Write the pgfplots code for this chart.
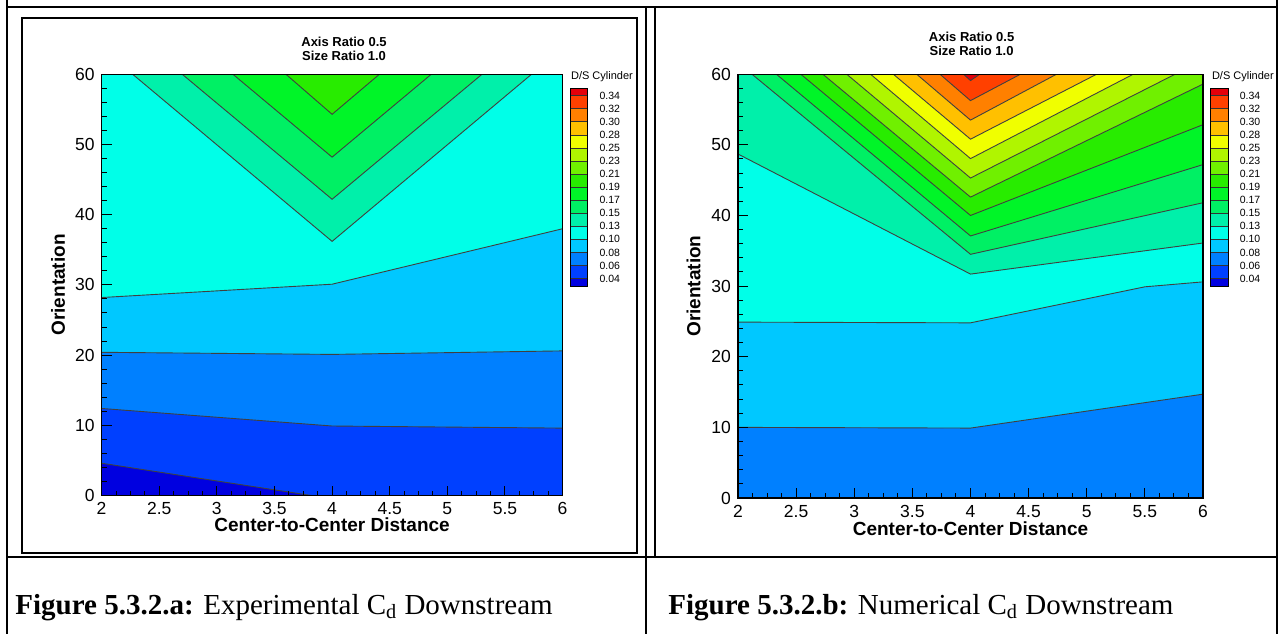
\documentclass[border=0pt]{standalone}
\usepackage{fontspec}
\setmainfont{Liberation Sans}
\newfontfamily\capfont{Liberation Serif}
\usepackage{pgfplots}
\pgfplotsset{compat=1.18}
\definecolor{c1}{RGB}{228,0,10}
\definecolor{c2}{RGB}{255,64,0}
\definecolor{c3}{RGB}{255,128,0}
\definecolor{c4}{RGB}{255,192,0}
\definecolor{c5}{RGB}{240,255,0}
\definecolor{c6}{RGB}{176,245,0}
\definecolor{c7}{RGB}{112,240,0}
\definecolor{c8}{RGB}{40,236,0}
\definecolor{c9}{RGB}{0,245,40}
\definecolor{c10}{RGB}{0,240,100}
\definecolor{c11}{RGB}{0,240,170}
\definecolor{c12}{RGB}{0,255,232}
\definecolor{c13}{RGB}{0,200,255}
\definecolor{c14}{RGB}{0,128,255}
\definecolor{c15}{RGB}{0,64,255}
\definecolor{c16}{RGB}{0,0,224}
\pgfplotsset{
  contourax/.style={
    scale only axis, axis on top, no markers,
    xmin=2, xmax=6, ymin=0, ymax=60,
    xtick={2,2.5,3,3.5,4,4.5,5,5.5,6}, ytick={0,10,20,30,40,50,60},
    minor x tick num=3, minor y tick num=4,
    tick align=inside, tick pos=left,
    major tick length=5pt, minor tick length=2.5pt,
    every tick/.style={black, line width=0.5pt},
    axis line style={black, line width=0.6pt},
    tick label style={font=\fontsize{8.75}{10}\selectfont},
    label style={font=\fontsize{9.5}{11}\selectfont\bfseries},
    /pgf/number format/assume math mode=true,
  },
  cbarax/.style={
    scale only axis, axis on top, no markers,
    xmin=0, xmax=1, ymin=0.43, ymax=15.57,
    xtick=\empty, ytick={1,2,3,4,5,6,7,8,9,10,11,12,13,14,15},
    yticklabels={0.04,0.06,0.08,0.10,0.13,0.15,0.17,0.19,0.21,0.23,0.25,0.28,0.30,0.32,0.34},
    yticklabel pos=right, major tick length=0pt,
    axis line style={black, line width=0.5pt},
    yticklabel style={font=\fontsize{5.25}{6}\selectfont, xshift=2.4pt},
    width=8.5pt, height=98.85pt,
  },
  cline/.style={black!75, line width=0.45pt},
}
\newcommand{\cb}[3]{\addplot[fill=#1, draw=black!80, line width=0.4pt] coordinates {(0,#2)(1,#2)(1,#3)(0,#3)};}
\newcommand{\cbarplots}{%
  \cb{c16}{0.43}{1}\cb{c15}{1}{2}\cb{c14}{2}{3}\cb{c13}{3}{4}%
  \cb{c12}{4}{5}\cb{c11}{5}{6}\cb{c10}{6}{7}\cb{c9}{7}{8}%
  \cb{c8}{8}{9}\cb{c7}{9}{10}\cb{c6}{10}{11}\cb{c5}{11}{12}%
  \cb{c4}{12}{13}\cb{c3}{13}{14}\cb{c2}{14}{15}\cb{c1}{15}{15.57}}
\begin{document}
\begin{tikzpicture}[x=0.5pt,y=0.5pt]
\path[use as bounding box, fill=white] (0,0) rectangle (1283,634);
% table and frames
\draw[black, line width=0.9pt] (7,634) -- (7,627) -- (1277,627) -- (1277,634);
\draw[black, line width=0.9pt] (7,627) -- (7,0);
\draw[black, line width=0.9pt] (1277,627) -- (1277,0);
\draw[black, line width=1.1pt] (7,77) -- (1277,77);
\draw[black, line width=0.9pt] (646,627) -- (646,0);
\draw[black, line width=0.6pt] (22,81) rectangle (637,616);
\draw[black, line width=0.6pt] (655,627) -- (655,77);

% ---------------- left plot (experimental)
\begin{axis}[contourax, at={(50.8pt,69.25pt)}, anchor=south west,
  width=230.5pt, height=210.6pt,
  xlabel={Center-to-Center Distance}, ylabel={Orientation},
  xlabel style={at={(axis description cs:0.5,-0.070)}, anchor=center},
  ylabel style={at={(axis description cs:-0.0946,0.5)}, anchor=center, rotate=0}]
\addplot[fill=c16, draw=none] coordinates {(2,0)(6,0)(6,60)(2,60)};
\addplot[fill=c15, draw=none] coordinates {(2,4.6)(3.82,0)(6,0)(6,60)(2,60)};
\addplot[fill=c14, draw=none] coordinates {(2,12.4)(4,9.9)(6,9.6)(6,60)(2,60)};
\addplot[fill=c13, draw=none] coordinates {(2,20.4)(4,20.1)(6,20.6)(6,60)(2,60)};
\addplot[fill=c12, draw=none] coordinates {(2,28.2)(4,30.1)(6,38.0)(6,60)(2,60)};
\addplot[fill=c11, draw=none] coordinates {(2.27,60)(4,36.2)(5.73,60)};
\addplot[fill=c10, draw=none] coordinates {(2.70,60)(4,42.2)(5.30,60)};
\addplot[fill=c9, draw=none] coordinates {(3.14,60)(4,48.2)(4.86,60)};
\addplot[fill=c8, draw=none] coordinates {(3.60,60)(4,54.3)(4.41,60)};
\addplot[cline] coordinates {(2,4.6)(3.82,0)};
\addplot[cline] coordinates {(2,12.4)(4,9.9)(6,9.6)};
\addplot[cline] coordinates {(2,20.4)(4,20.1)(6,20.6)};
\addplot[cline] coordinates {(2,28.2)(4,30.1)(6,38.0)};
\addplot[cline] coordinates {(2.27,60)(4,36.2)(5.73,60)};
\addplot[cline] coordinates {(2.70,60)(4,42.2)(5.30,60)};
\addplot[cline] coordinates {(3.14,60)(4,48.2)(4.86,60)};
\addplot[cline] coordinates {(3.60,60)(4,54.3)(4.41,60)};
\end{axis}
\begin{axis}[cbarax, at={(285.35pt,174pt)}, anchor=south west]
\cbarplots
\end{axis}

% ---------------- right plot (numerical)
\begin{axis}[contourax, at={(369pt,68pt)}, anchor=south west,
  width=232.5pt, height=211.9pt,
  xlabel={Center-to-Center Distance}, ylabel={Orientation},
  xlabel style={at={(axis description cs:0.5,-0.0722)}, anchor=center},
  ylabel style={at={(axis description cs:-0.0955,0.5)}, anchor=center, rotate=0}]
\addplot[fill=c14, draw=none] coordinates {(2,0)(6,0)(6,60)(2,60)};
\addplot[fill=c13, draw=none] coordinates {(2,10.0)(4,9.9)(6,14.7)(6,60)(2,60)};
\addplot[fill=c12, draw=none] coordinates {(2,24.9)(4,24.8)(5.5,29.9)(6,30.6)(6,60)(2,60)};
\addplot[fill=c11, draw=none] coordinates {(2,48.7)(4,31.7)(6,36.1)(6,60)(2,60)};
\addplot[fill=c10, draw=none] coordinates {(2.12,60)(4,34.5)(6,41.8)(6,60)};
\addplot[fill=c9, draw=none] coordinates {(2.33,60)(4,37.1)(6,47.2)(6,60)};
\addplot[fill=c8, draw=none] coordinates {(2.54,60)(4,40.0)(6,52.85)(6,60)};
\addplot[fill=c7, draw=none] coordinates {(2.73,60)(4,42.6)(6,58.6)(6,60)};
\addplot[fill=c6, draw=none] coordinates {(2.935,60)(4,45.3)(5.76,60)};
\addplot[fill=c5, draw=none] coordinates {(3.14,60)(4,48.05)(5.40,60)};
\addplot[fill=c4, draw=none] coordinates {(3.336,60)(4,50.8)(5.085,60)};
\addplot[fill=c3, draw=none] coordinates {(3.537,60)(4,53.5)(4.74,60)};
\addplot[fill=c2, draw=none] coordinates {(3.737,60)(4,56.26)(4.43,60)};
\addplot[fill=c1, draw=none] coordinates {(3.94,60)(4,59.1)(4.08,60)};
\addplot[cline] coordinates {(2,10.0)(4,9.9)(6,14.7)};
\addplot[cline] coordinates {(2,24.9)(4,24.8)(5.5,29.9)(6,30.6)};
\addplot[cline] coordinates {(2,48.7)(4,31.7)(6,36.1)};
\addplot[cline] coordinates {(2.12,60)(4,34.5)(6,41.8)};
\addplot[cline] coordinates {(2.33,60)(4,37.1)(6,47.2)};
\addplot[cline] coordinates {(2.54,60)(4,40.0)(6,52.85)};
\addplot[cline] coordinates {(2.73,60)(4,42.6)(6,58.6)};
\addplot[cline] coordinates {(2.935,60)(4,45.3)(5.76,60)};
\addplot[cline] coordinates {(3.14,60)(4,48.05)(5.40,60)};
\addplot[cline] coordinates {(3.336,60)(4,50.8)(5.085,60)};
\addplot[cline] coordinates {(3.537,60)(4,53.5)(4.74,60)};
\addplot[cline] coordinates {(3.737,60)(4,56.26)(4.43,60)};
\addplot[cline] coordinates {(3.94,60)(4,59.1)(4.08,60)};
\end{axis}
\begin{axis}[cbarax, at={(605.25pt,174pt)}, anchor=south west, width=8.75pt]
\cbarplots
\end{axis}

% titles
\node[font=\fontsize{6.5}{7.5}\selectfont\bfseries, inner sep=0] at (344,592.2) {Axis Ratio 0.5};
\node[font=\fontsize{6.5}{7.5}\selectfont\bfseries, inner sep=0] at (344,578.6) {Size Ratio 1.0};
\node[font=\fontsize{6.5}{7.5}\selectfont\bfseries, inner sep=0] at (971.6,597.2) {Axis Ratio 0.5};
\node[font=\fontsize{6.5}{7.5}\selectfont\bfseries, inner sep=0] at (971.6,583.3) {Size Ratio 1.0};
\node[font=\fontsize{5.5}{6.5}\selectfont, inner sep=0, anchor=west] at (570.7,557.3) {D/S Cylinder};
\node[font=\fontsize{5.5}{6.5}\selectfont, inner sep=0, anchor=west] at (1211.6,557.3) {D/S Cylinder};
% captions
\node[font=\capfont\fontsize{14.5}{17}\selectfont, inner sep=0, anchor=base west] at (15,20)
  {\textbf{Figure 5.3.2.a:} Experimental C\textsubscript{d} Downstream};
\node[font=\capfont\fontsize{14.5}{17}\selectfont, inner sep=0, anchor=base west] at (668,20)
  {\textbf{Figure 5.3.2.b:} Numerical C\textsubscript{d} Downstream};
\end{tikzpicture}
\end{document}
